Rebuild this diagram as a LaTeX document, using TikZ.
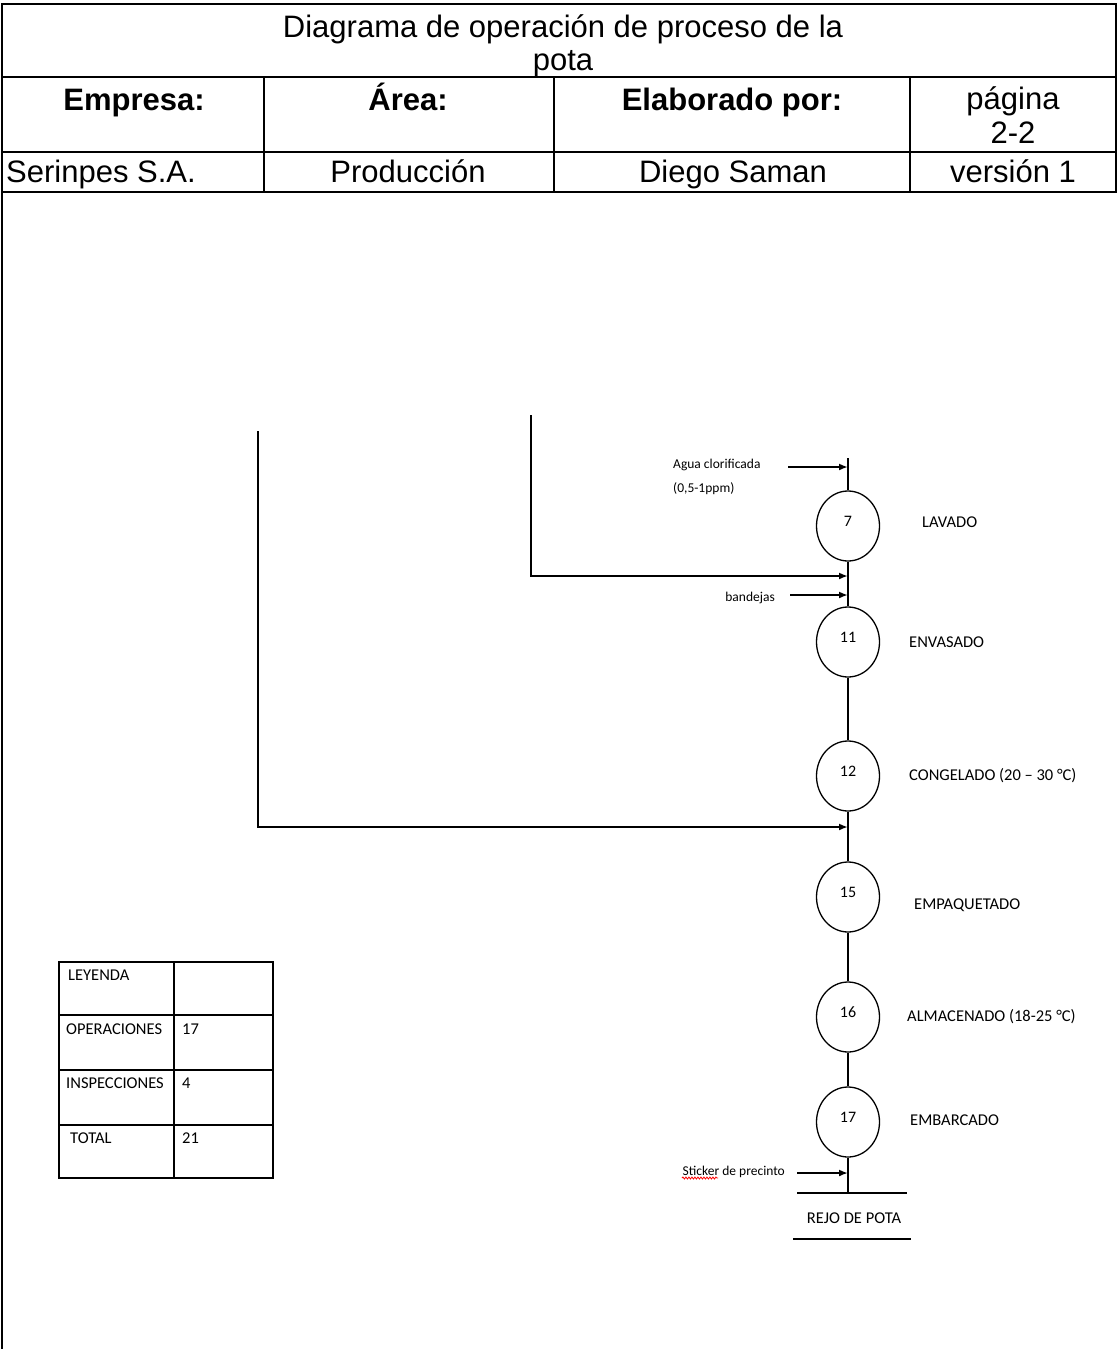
\documentclass[tikz,border=0pt]{standalone}
\usepackage{fontspec}
\setmainfont{Liberation Sans}
\newfontfamily\calibri{Carlito}
\usetikzlibrary{arrows.meta, positioning, shapes.geometric, decorations.pathmorphing}

\begin{document}
\begin{tikzpicture}[x=1pt, y=-1pt,
    frame/.style={line width=2.6pt, black},
    head/.style={inner sep=0pt, font=\fontsize{31}{34}\selectfont},
    headb/.style={inner sep=0pt, font=\fontsize{31}{34}\selectfont\bfseries},
    op/.style={ellipse, draw, line width=1.3pt, minimum width=63pt,
      minimum height=70pt, inner sep=0pt, text depth=9pt,
      font=\calibri\fontsize{16}{18}\selectfont},
    oplabel/.style={anchor=west, inner sep=0pt, font=\calibri\fontsize{16.5}{20}\selectfont},
    intext/.style={inner sep=0pt, font=\calibri\fontsize{13.5}{24}\selectfont},
    legend/.style={anchor=west, inner sep=0pt, font=\calibri\fontsize{16.5}{20}\selectfont},
    flow/.style={line width=2.8pt},
    arr/.style={-{Latex[length=9pt, width=7pt]}, line width=2.8pt}]
    \path[fill=white, use as bounding box] (0,0) rectangle (1118,1349);

    % header table
    \draw[frame] (2,1349) -- (2,4) -- (1116,4) -- (1116,192) -- (2,192);
    \draw[frame] (2,77) -- (1116,77);
    \draw[frame] (2,152) -- (1116,152);
    \draw[frame] (264,77) -- (264,192);
    \draw[frame] (554,77) -- (554,192);
    \draw[frame] (910,77) -- (910,192);
    \node[head, align=center, anchor=north, font=\fontsize{31}{33}\selectfont] (title) at (563,14) {Diagrama de operación de proceso de la\\pota};
    \node[headb, anchor=base] (hEmp) at (134,110) {Empresa:};
    \node[headb, anchor=base] (hArea) at (408,110) {Área:};
    \node[headb, anchor=base] (hElab) at (732,110) {Elaborado por:};
    \node[head, align=center, anchor=north] (hPag) at (1013,86) {página\\2-2};
    \node[head, anchor=base west] (vEmp) at (6,182) {Serinpes S.A.};
    \node[head, anchor=base] (vArea) at (408,182) {Producción};
    \node[head, anchor=base] (vElab) at (733,182) {Diego Saman};
    \node[head, anchor=base] (vPag) at (1013,182) {versión 1};

    % operations
    \node[op] (c7) at (848,526) {7};
    \node[op] (c11) at (848,642) {11};
    \node[op] (c12) at (848,776) {12};
    \node[op] (c15) at (848,897) {15};
    \node[op] (c16) at (848,1017) {16};
    \node[op] (c17) at (848,1122) {17};
    \node[oplabel] (lLav) at (922,522) {LAVADO};
    \node[oplabel] (lEnv) at (909,642) {ENVASADO};
    \node[oplabel] (lCon) at (909,776) {CONGELADO (20 – 30 °C)};
    \node[oplabel] (lEmp) at (914,905) {EMPAQUETADO};
    \node[oplabel] (lAlm) at (907,1017) {ALMACENADO (18-25 °C)};
    \node[oplabel] (lEmb) at (910,1120) {EMBARCADO};

    % inputs
    \node[intext, align=left, anchor=north west] (tAgua) at (673,459) {Agua clorificada\\(0,5-1ppm)};
    \node[intext, anchor=east] (tBan) at (775,598) {bandejas};
    \node[intext, anchor=east] (tSti) at (785,1172) {Sticker de precinto};
    \draw[red, line width=0.8pt, decorate, decoration={snake, amplitude=1pt, segment length=3pt}]
      (682,1178) -- (718,1178);

    \coordinate (top) at (848,458);
    \coordinate (inAgua) at (788,467);
    \coordinate (jAgua) at (848,467);
    \coordinate (src1) at (531,415);
    \coordinate (j1) at (848,576);
    \coordinate (inBan) at (790,595);
    \coordinate (jBan) at (848,595);
    \coordinate (src2) at (258,431);
    \coordinate (j2) at (848,827);
    \coordinate (inSti) at (797,1173);
    \coordinate (jSti) at (848,1173);
    \coordinate (base) at (848,1193);
    \coordinate (b1) at (797,1193);
    \coordinate (b2) at (907,1193);
    \coordinate (u1) at (793,1239);
    \coordinate (u2) at (911,1239);

    \draw[flow] (top) -- (c7);
    \draw[flow] (c7) -- (c11);
    \draw[flow] (c11) -- (c12);
    \draw[flow] (c12) -- (c15);
    \draw[flow] (c15) -- (c16);
    \draw[flow] (c16) -- (c17);
    \draw[flow] (c17) -- (base);
    \draw[arr] (inAgua) -- (jAgua);
    \draw[arr] (src1) |- (j1);
    \draw[arr] (inBan) -- (jBan);
    \draw[arr] (src2) |- (j2);
    \draw[arr] (inSti) -- (jSti);

    % product
    \draw[flow] (b1) -- (b2);
    \node[oplabel, anchor=center] (prod) at (854,1218) {REJO DE POTA};
    \draw[flow] (u1) -- (u2);

    % legend
    \draw[line width=1.3pt] (59,962) rectangle (273,1178);
    \draw[line width=1.3pt] (174,962) -- (174,1178);
    \draw[line width=1.3pt] (59,1015) -- (273,1015);
    \draw[line width=1.3pt] (59,1070) -- (273,1070);
    \draw[line width=1.3pt] (59,1125) -- (273,1125);
    \node[legend] (kLey) at (68,975) {LEYENDA};
    \node[legend] (kOp) at (66,1029) {OPERACIONES};
    \node[legend] (kIns) at (66,1083) {INSPECCIONES};
    \node[legend] (kTot) at (70,1138) {TOTAL};
    \node[legend] (vOp) at (182,1029) {17};
    \node[legend] (vIns) at (182,1083) {4};
    \node[legend] (vTot) at (182,1138) {21};
\end{tikzpicture}
\end{document}
